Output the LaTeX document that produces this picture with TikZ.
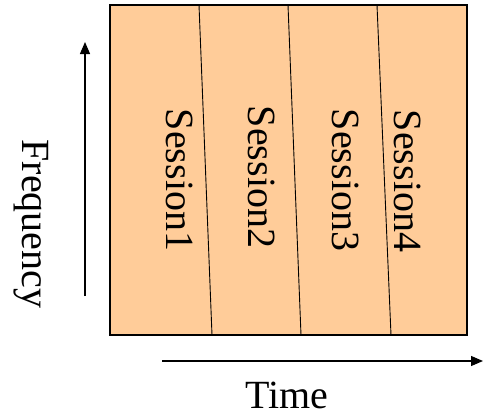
\documentclass[tikz,border=0pt]{standalone}
\usepackage{fontspec}
\setmainfont{Liberation Serif}
\usetikzlibrary{arrows.meta,positioning}
\definecolor{peach}{HTML}{FFCC99}
\tikzset{
  panel/.style={draw=black, fill=peach, line width=1.5pt},
  divider/.style={draw=black, line width=0.9pt},
  axis/.style={-{Triangle[length=12pt,width=10pt]}, line width=1.2pt, draw=black},
  sess/.style={rotate=-90, font=\fontsize{40}{44}\selectfont, inner sep=0pt},
  lbl/.style={font=\fontsize{40}{44}\selectfont, inner sep=0pt}
}

\begin{document}
\begin{tikzpicture}[x=1pt,y=-1pt]
  \useasboundingbox (0,0) rectangle (483,416);

  % the block of sessions
  \draw[panel] (110,5) rectangle (467,335);
  \coordinate (t1) at (199,5);   \coordinate (b1) at (212,335);
  \coordinate (t2) at (288,5);   \coordinate (b2) at (301,335);
  \coordinate (t3) at (377,5);   \coordinate (b3) at (391,335);
  \foreach \i in {1,2,3}
    \draw[divider] (t\i) -- (b\i);

  \node[sess] (s1) at (180,180) {Session1};
  \node[sess] (s2) at (262,177) {Session2};
  \node[sess] (s3) at (346,180) {Session3};
  \node[sess] (s4) at (408,181) {Session4};

  % axes
  \coordinate (f0) at (85,296);  \coordinate (f1) at (85,42);
  \draw[axis] (f0) -- (f1);
  \node[sess] (freq) at (31,224) {Frequency};

  \coordinate (t0) at (162,361); \coordinate (tend) at (483,361);
  \draw[axis] (t0) -- (tend);
  \node[lbl, anchor=base] (time) at (287,408) {Time};
\end{tikzpicture}
\end{document}
